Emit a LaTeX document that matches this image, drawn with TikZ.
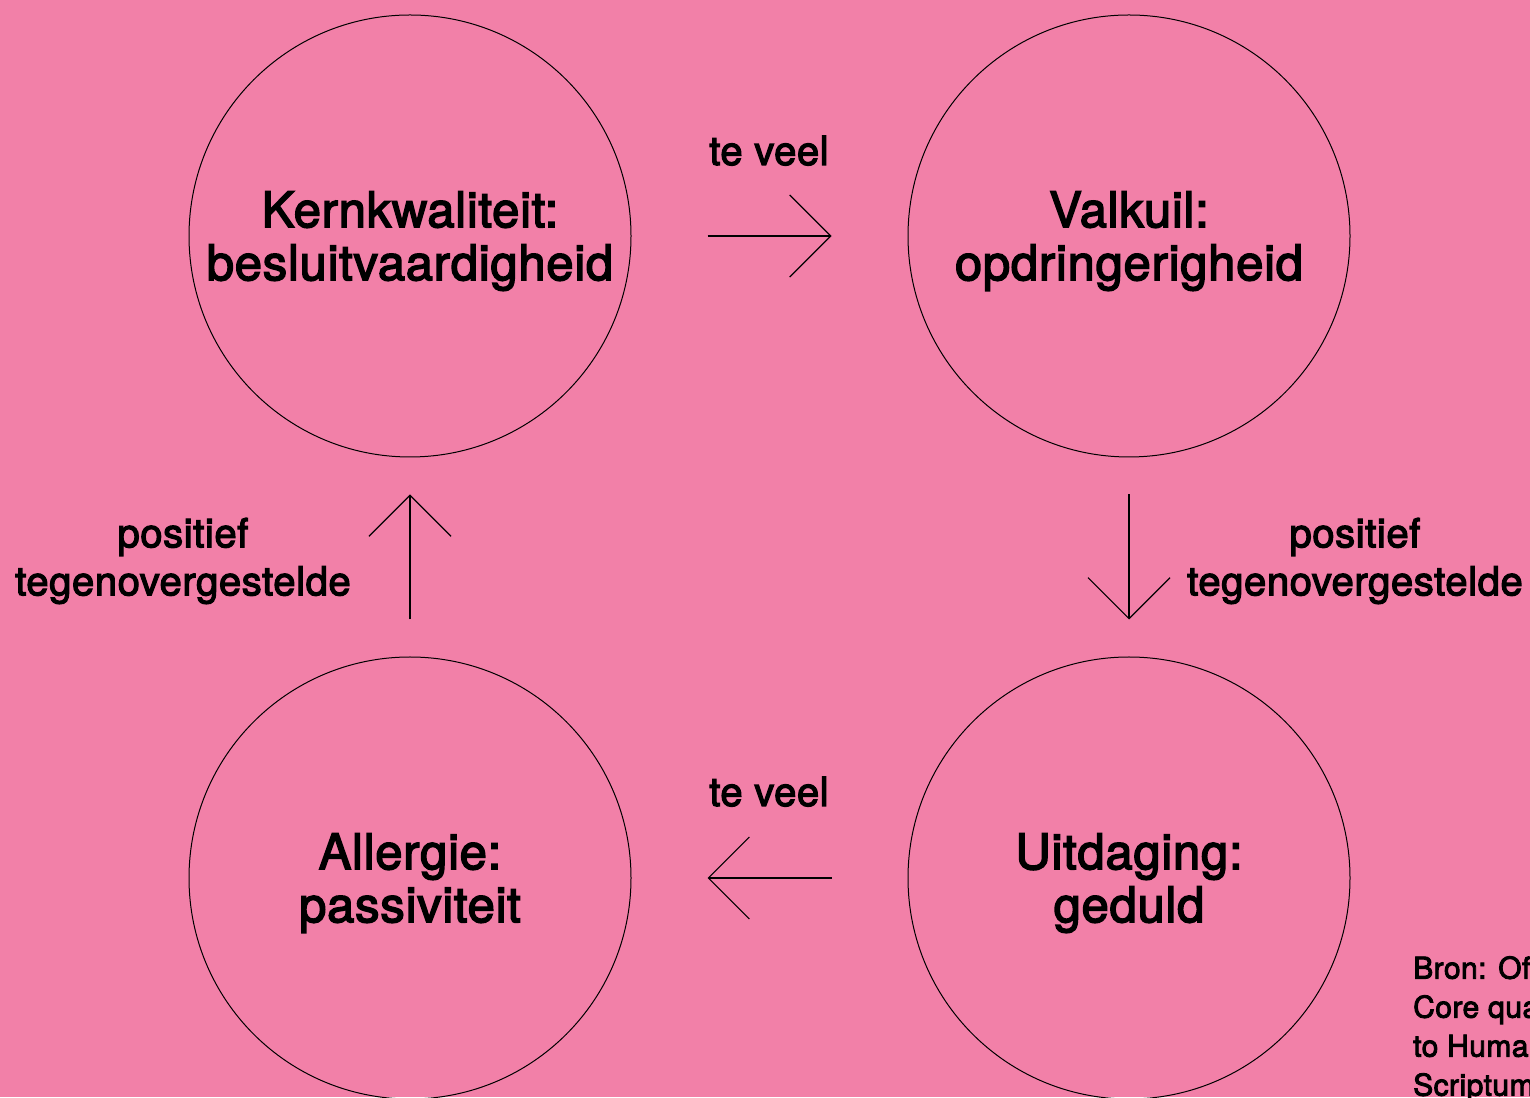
\documentclass[tikz,border=0pt]{standalone}
\usepackage{fontspec}
\setmainfont{TeX Gyre Heros}[FakeBold=3,LetterSpace=1.5]
\usetikzlibrary{arrows.meta}
\definecolor{roze}{RGB}{242,128,168}
\newcommand{\hoog}{\rule{0pt}{46pt}}

\begin{document}
\begin{tikzpicture}[x=1pt,y=1pt,
    kring/.style={circle,draw,line width=1pt,minimum size=442pt,inner sep=0pt,
      align=center,font=\fontsize{49}{53}\selectfont},
    pijl/.style={line width=1.2pt,-{Straight Barb[length=41pt,width=82pt,line width=1.2pt]}},
    tekst/.style={align=center,font=\fontsize{40}{48}\selectfont}]
      \useasboundingbox (0,0) rectangle (1530,1097);
      \fill[roze] (0,0) rectangle (1530,1097);
      \clip (0,0) rectangle (1530,1097);

      \node[kring] (kern) at (410,861) {\hoog Kernkwaliteit:\\besluitvaardigheid};
      \node[kring] (valkuil) at (1129,861) {\hoog Valkuil:\\opdringerigheid};
      \node[kring] (uitdaging) at (1129,219) {\hoog Uitdaging:\\geduld};
      \node[kring] (allergie) at (410,219) {\hoog Allergie:\\passiviteit};

      \draw[pijl,shorten <=76pt,shorten >=76pt] (kern) -- (valkuil);
      \draw[pijl,shorten <=76pt,shorten >=76pt] (uitdaging) -- (allergie);
      \draw[pijl,shorten <=37pt,shorten >=37pt] (valkuil) -- (uitdaging);
      \draw[pijl,shorten <=37pt,shorten >=37pt] (allergie) -- (kern);

      \node[tekst,anchor=base] (veel1) at (769,932) {te veel};
      \node[tekst,anchor=base] (veel2) at (769,291) {te veel};
      \node[tekst] (pos1) at (183,536) {positief\\tegenovergestelde};
      \node[tekst] (pos2) at (1355,536) {positief\\tegenovergestelde};

      \node[anchor=north west,inner sep=0pt,align=left,font=\fontsize{30}{39}\selectfont]
        (bron) at (1413,141) {Bron: Ofman, D. (2002).\\Core qualities: A gateway\\to Human Resources.\\Scriptum.};
    \end{tikzpicture}
\end{document}
